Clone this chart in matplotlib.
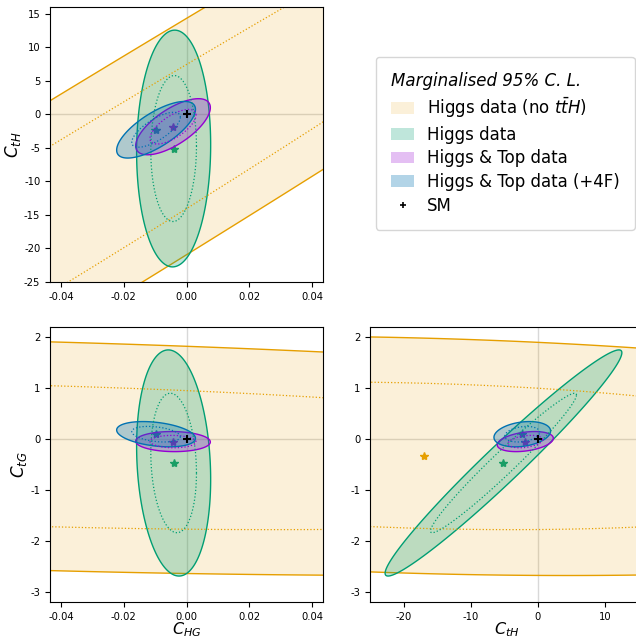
import numpy as np
import matplotlib.pyplot as plt
from matplotlib.patches import Patch
from matplotlib.lines import Line2D

plt.rcParams['axes.unicode_minus'] = False

# parameter order: C_HG, C_tH, C_tG
param_labels = ['$C_{HG}$', '$C_{tH}$', '$C_{tG}$']

fit_names = ['Higgs data (no $t\\bar{t}H$)', 'Higgs data',
             'Higgs & Top data', 'Higgs & Top data (+4F)']
fit_colors = ['#E69F00', '#009E73', '#9400D3', '#0072B2']
fit_alpha = [0.15, 0.25, 0.25, 0.3]

# best fit points (C_HG, C_tH, C_tG)
best_nott = [-0.048, -17.0, -0.33]
best_higgs = [-0.0041, -5.1, -0.47]
best_top = [-0.0043, -1.85, -0.05]
best_4f = [-0.0097, -2.30, 0.095]

# 1 sigma errors
sig_nott = [0.170, 49.0, 0.960]
sig_higgs = [0.00482, 7.21, 0.907]
sig_top = [0.00486, 1.708, 0.0805]
sig_4f = [0.00513, 1.724, 0.1013]

# correlations (HG-tH, HG-tG, tH-tG)
rho_nott = [0.989, -0.294, -0.179]
rho_higgs = [0.03, -0.145, 0.975]
rho_top = [0.68, -0.04, 0.33]
rho_4f = [0.72, -0.33, 0.25]

sm_point = [0.0, 0.0, 0.0]

best = [best_nott, best_higgs, best_top, best_4f]
sigmas = [sig_nott, sig_higgs, sig_top, sig_4f]
rhos = [rho_nott, rho_higgs, rho_top, rho_4f]

dchi2_95 = 5.991
dchi2_68 = 2.279


def cov_matrix(sig, rho):
    s = np.array(sig)
    corr = np.array([[1, rho[0], rho[1]],
                     [rho[0], 1, rho[2]],
                     [rho[1], rho[2], 1]])
    return corr * np.outer(s, s)


def contour(mu, cov, dchi2, n=20000):
    t = np.linspace(0, 2 * np.pi, n)
    L = np.linalg.cholesky(cov)
    pts = np.sqrt(dchi2) * L @ np.vstack([np.cos(t), np.sin(t)])
    return mu[0] + pts[0], mu[1] + pts[1]


fig = plt.figure(figsize=(6.36, 6.39), dpi=100)
W, H = 636., 639.
ax_tl = fig.add_axes([50 / W, 1 - 282 / H, 273 / W, 275 / H])
ax_bl = fig.add_axes([50 / W, 1 - 602 / H, 273 / W, 275 / H])
ax_br = fig.add_axes([370 / W, 1 - 602 / H, 273 / W, 275 / H])

panels = [(ax_tl, 0, 1), (ax_bl, 0, 2), (ax_br, 1, 2)]

for ax, i, j in panels:
    ax.axhline(0, color='grey', alpha=0.3, lw=1, zorder=0.5)
    ax.axvline(0, color='grey', alpha=0.3, lw=1, zorder=0.5)
    for k in range(4):
        cov = cov_matrix(sigmas[k], rhos[k])
        sub = cov[np.ix_([i, j], [i, j])]
        mu = [best[k][i], best[k][j]]
        x95, y95 = contour(mu, sub, dchi2_95)
        x68, y68 = contour(mu, sub, dchi2_68)
        ax.fill(x95, y95, facecolor=fit_colors[k], alpha=fit_alpha[k], lw=0)
        ax.fill(x95, y95, facecolor='none', edgecolor=fit_colors[k], lw=1)
        ax.plot(x68, y68, color=fit_colors[k], lw=0.9, ls=':')
        ax.plot(mu[0], mu[1], marker='*', color=fit_colors[k], ms=6,
                ls='none', zorder=0.9)
    ax.plot(sm_point[i], sm_point[j], marker='+', color='k', ms=6, mew=1.5,
            ls='none', zorder=5)
    ax.tick_params(labelsize=7.2)

ax_tl.set_xlim(-0.0435, 0.0435)
ax_tl.set_ylim(-25, 16)
ax_tl.set_xticks([-0.04, -0.02, 0.0, 0.02, 0.04])
ax_tl.set_ylabel(param_labels[1], fontsize=12, labelpad=1)

ax_bl.set_xlim(-0.0435, 0.0435)
ax_bl.set_ylim(-3.2, 2.2)
ax_bl.set_xticks([-0.04, -0.02, 0.0, 0.02, 0.04])
ax_bl.set_xlabel(param_labels[0], fontsize=11.5, labelpad=-1)
ax_bl.set_ylabel(param_labels[2], fontsize=12, labelpad=1)

ax_br.set_xlim(-25, 15.7)
ax_br.set_ylim(-3.2, 2.2)
ax_br.set_xticks([-20, -10, 0, 10])
ax_br.set_xlabel(param_labels[1], fontsize=11.5, labelpad=-1)

handles = [Patch(facecolor=c, alpha=a, edgecolor='none') for c, a in zip(fit_colors, fit_alpha)]
handles.append(Line2D([], [], marker='+', color='k', ms=5, mew=1.2, ls='none'))
fig.legend(handles, fit_names + ['SM'], loc='upper left',
           bbox_to_anchor=(376 / W, 1 - 57 / H), borderaxespad=0,
           fontsize=12, title='Marginalised 95% C. L.',
           title_fontproperties={'style': 'italic', 'size': 12},
           alignment='left', handlelength=1.4, handletextpad=0.75,
           labelspacing=0.34, borderpad=0.9)

fig.savefig('out.png', dpi=100)
